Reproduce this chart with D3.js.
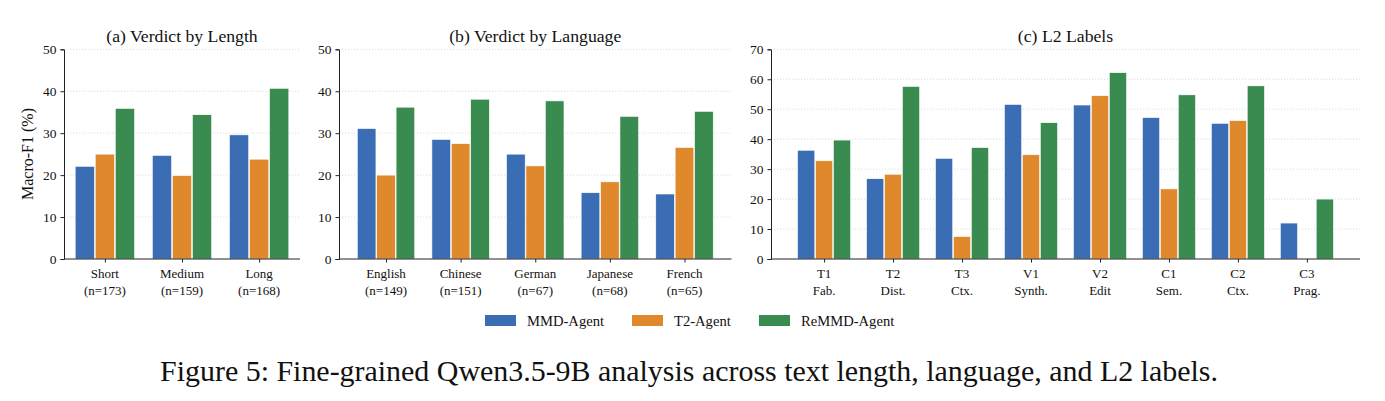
<!DOCTYPE html>
<html><head><meta charset="utf-8">
<script src="https://cdn.jsdelivr.net/npm/d3@7"></script>
<style>body{margin:0;background:#fff}svg{display:block}text{font-family:"Times New Roman",Times,serif;fill:#111}</style>
</head><body><svg id="c" width="1385" height="401"></svg>
<script>
const seriesNames = ["MMD-Agent","T2-Agent","ReMMD-Agent"];
const colors = ["#3b6db5","#e0892c","#3a8b4f"];

const lengthCats = ["Short\n(n=173)","Medium\n(n=159)","Long\n(n=168)"];
const lengthMMD = [22.1,24.7,29.6];
const lengthT2 = [25.0,19.9,23.8];
const lengthRe = [35.9,34.4,40.7];

const langCats = ["English\n(n=149)","Chinese\n(n=151)","German\n(n=67)","Japanese\n(n=68)","French\n(n=65)"];
const langMMD = [31.1,28.5,25.0,15.8,15.5];
const langT2 = [20.0,27.5,22.2,18.4,26.6];
const langRe = [36.2,38.1,37.7,34.0,35.2];

const l2Cats = ["T1\nFab.","T2\nDist.","T3\nCtx.","V1\nSynth.","V2\nEdit","C1\nSem.","C2\nCtx.","C3\nPrag."];
const l2MMD = [36.3,26.8,33.6,51.6,51.4,47.2,45.3,12.0];
const l2T2 = [32.8,28.3,7.5,34.8,54.5,23.4,46.2,0];
const l2Re = [39.7,57.6,37.2,45.5,62.2,54.8,57.8,20.0];

const ticks50 = [0,10,20,30,40,50];
const ticks70 = [0,10,20,30,40,50,60,70];

const titles = ["(a) Verdict by Length","(b) Verdict by Language","(c) L2 Labels"];
const yLabel = "Macro-F1 (%)";
const caption = "Figure 5: Fine-grained Qwen3.5-9B analysis across text length, language, and L2 labels.";

const FONT = '"Times New Roman", Times, serif';
const svg = d3.select("#c");
const plotTop = 49.3, plotBottom = 259;

const panels = [
  {cats:lengthCats, vals:[lengthMMD,lengthT2,lengthRe], x0:64, x1:300, pad:0.53, ymax:50, ticks:ticks50, title:titles[0]},
  {cats:langCats, vals:[langMMD,langT2,langRe], x0:339, x1:731.5, pad:0.63, ymax:50, ticks:ticks50, title:titles[1]},
  {cats:l2Cats, vals:[l2MMD,l2T2,l2Re], x0:771, x1:1360, pad:0.77, ymax:70, ticks:ticks70, title:titles[2]}
];

const offsets = [-0.26,0,0.26];
const bw = 0.25;

panels.forEach(p => {
  const n = p.cats.length;
  const x = d3.scaleLinear().domain([-p.pad, n-1+p.pad]).range([p.x0,p.x1]);
  const y = d3.scaleLinear().domain([0,p.ymax]).range([plotBottom,plotTop]);
  const g = svg.append("g");
  g.selectAll("line.grid").data(p.ticks.filter(t=>t>0)).enter().append("line")
    .attr("x1",p.x0).attr("x2",p.x1).attr("y1",d=>y(d)).attr("y2",d=>y(d))
    .attr("stroke","#cfcfcf").attr("stroke-width",0.7).attr("stroke-dasharray","1.2,1.8");
  p.vals.forEach((arr,si)=>{
    g.selectAll(null).data(arr).enter().append("rect")
      .attr("x",(d,i)=>x(i+offsets[si]-bw/2))
      .attr("width",x(bw)-x(0))
      .attr("y",d=>y(d)).attr("height",d=>Math.max(0,plotBottom-y(d)))
      .attr("fill",colors[si]).attr("stroke","#fff").attr("stroke-width",0.6);
  });
  const ya = g.append("g").attr("transform",`translate(${p.x0},0)`)
    .call(d3.axisLeft(y).tickValues(p.ticks).tickSize(3.5).tickPadding(4).tickFormat(d3.format("d")));
  ya.attr("font-family",null).attr("font-size",null);
  ya.select(".domain").attr("stroke","#222").attr("stroke-width",1);
  ya.selectAll(".tick line").attr("stroke","#222");
  ya.selectAll("text").style("font-size","13.5px").style("font-family",FONT).attr("fill","#111");
  const xa = g.append("g").attr("transform",`translate(0,${plotBottom})`)
    .call(d3.axisBottom(x).tickValues(d3.range(n)).tickSize(3.5).tickFormat(""));
  xa.select(".domain").attr("d",`M${p.x0},0H${p.x1}`).attr("stroke","#222").attr("stroke-width",1);
  xa.selectAll(".tick line").attr("stroke","#222");
  p.cats.forEach((c,i)=>{
    const lines = c.split("\n");
    const t = g.append("text").attr("x",x(i)).attr("y",plotBottom+19).attr("text-anchor","middle").style("font-size","13px");
    lines.forEach((l,j)=>t.append("tspan").attr("x",x(i)).attr("dy",j?"1.3em":0).text(l));
  });
  g.append("text").attr("x",(p.x0+p.x1)/2).attr("y",41.5).attr("text-anchor","middle")
    .style("font-size","17.7px").text(p.title);
});

svg.append("text").attr("transform","translate(33,154) rotate(-90)").attr("text-anchor","middle")
  .style("font-size","16px").text(yLabel);

const legX = [485,632,759];
seriesNames.forEach((s,i)=>{
  svg.append("rect").attr("x",legX[i]).attr("y",315).attr("width",31).attr("height",11).attr("fill",colors[i]);
  svg.append("text").attr("x",legX[i]+42).attr("y",325.5).style("font-size","14.6px").text(s);
});

const cap = svg.append("text").attr("x",689).attr("y",381).attr("text-anchor","middle").style("font-size","28px").text(caption);
const w = cap.node().getComputedTextLength();
cap.style("font-size",(28*1058/w).toFixed(2)+"px");
</script></body></html>
